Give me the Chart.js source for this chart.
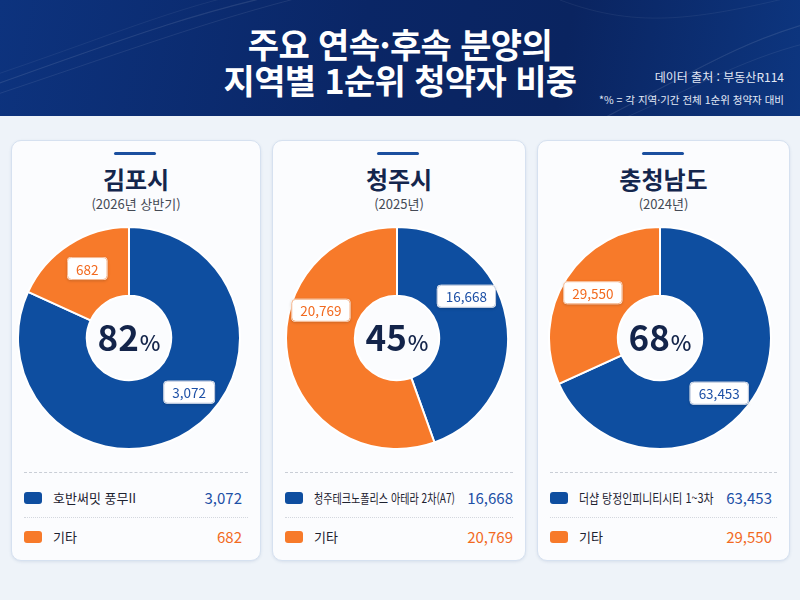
<!DOCTYPE html>
<html lang="ko">
<head>
<meta charset="utf-8">
<script src="https://cdn.jsdelivr.net/npm/chart.js@4.4.1/dist/chart.umd.min.js"></script>
<style>
  html, body { margin: 0; padding: 0; }
  body {
    width: 800px; height: 600px; overflow: hidden; position: relative;
    background: #eef3f9;
    font-family: "Noto Sans CJK KR", "Noto Sans", sans-serif;
  }
  .header {
    position: absolute; left: 0; top: 0; width: 800px; height: 116px;
    background: linear-gradient(100deg, #0d337e 0%, #0a2666 45%, #0a2460 70%, #0d3680 100%);
    overflow: hidden;
  }
  .header svg { position: absolute; left: 0; top: 0; }
  .title {
    position: absolute; left: 0; width: 800px; text-align: center;
    color: #fff; font-weight: 700; font-size: 34px; letter-spacing: -0.6px;
  }
  .note { position: absolute; right: 16px; color: #e3e9f6; white-space: nowrap; }
  .card {
    position: absolute; top: 140px; height: 421px;
    background: #fbfcfe; border: 1px solid #d6e1f0; border-radius: 10px;
    box-shadow: 0 1px 3px rgba(60, 90, 140, 0.12);
    box-sizing: border-box;
  }
  .bar { position: absolute; top: 11px; width: 42px; height: 3px; background: #1b4f9f; border-radius: 2px; }
  .card h2 {
    position: absolute; top: 21px; left: 0; right: 0; margin: 0; text-align: center;
    font-size: 24px; font-weight: 700; color: #14264d; line-height: 34px;
  }
  .card .sub {
    position: absolute; top: 54px; left: 0; right: 0; text-align: center;
    font-size: 13px; color: #444a55; line-height: 18px;
  }
  .card canvas { position: absolute; }
  .sep { position: absolute; left: 12px; right: 12px; border-top: 1px dashed #c9ced6; }
  .sep.dot { border-top: 1px dotted #d3d7de; }
  .row { position: absolute; left: 12px; height: 20px; }
  .sw { position: absolute; left: 0; top: 4px; width: 18px; height: 12px; border-radius: 3px; }
  .lab {
    position: absolute; left: 29px; top: 0; font-size: 13px; color: #1d2230; line-height: 20px;
    white-space: nowrap; transform-origin: left center;
  }
  .val { position: absolute; right: 0; top: 0; font-size: 15px; font-weight: 400; line-height: 20px; }
</style>
</head>
<body>
<div class="header">
  <svg width="800" height="116">
    <path d="M-20 90 C 120 40, 200 10, 300 -10" stroke="rgba(255,255,255,0.10)" stroke-width="1.2" fill="none"/>
    <path d="M-20 100 C 130 50, 210 20, 310 -5" stroke="rgba(255,255,255,0.08)" stroke-width="1" fill="none"/>
    <path d="M-20 80 C 100 40, 180 5, 260 -10" stroke="rgba(255,255,255,0.06)" stroke-width="1" fill="none"/>
    <path d="M600 120 C 680 80, 740 40, 820 20" stroke="rgba(255,255,255,0.10)" stroke-width="1.2" fill="none"/>
    <path d="M620 120 C 700 85, 750 55, 820 40" stroke="rgba(255,255,255,0.07)" stroke-width="1" fill="none"/>
    <path d="M560 0 C 640 30, 700 20, 820 -10" stroke="rgba(255,255,255,0.06)" stroke-width="1" fill="none"/>
  </svg>
  <div class="title" style="top: 22px; line-height: 44px;">주요 연속·후속 분양의</div>
  <div class="title" style="top: 58px; line-height: 44px;">지역별 1순위 청약자 비중</div>
  <div class="note" style="top: 68px; font-size: 12px;">데이터 출처 : 부동산R114</div>
  <div class="note" style="top: 92px; font-size: 10.5px;">*% = 각 지역·기간 전체 1순위 청약자 대비</div>
</div>
<div id="cards"></div>
<script>
// data
const regions = ["김포시", "청주시", "충청남도"];
const periods = ["(2026년 상반기)", "(2025년)", "(2024년)"];
const complexNames = ["호반써밋 풍무II", "청주테크노폴리스 아테라 2차(A7)", "더샵 탕정인피니티시티 1~3차"];
const otherLabel = "기타";
const topComplexApplicants = [3072, 16668, 63453];
const otherApplicants = [682, 20769, 29550];

// layout
const cardBoxes = [
  { left: 11, width: 250, cx: 129, valRight: 18 },
  { left: 272, width: 254, cx: 397, valRight: 12 },
  { left: 537, width: 253, cx: 660, valRight: 17 },
];
const labelAngles = [[132, 329], [59, 290], [133, 304]];
const BLUE = "#0e4ea0";
const ORANGE = "#f77a2a";
const BLUE_TXT = "#1d50a6";
const ORANGE_TXT = "#f26a1f";
const SIZE = 224;

const fmt = (n) => n.toLocaleString("en-US");

function roundRect(ctx, x, y, w, h, r) {
  ctx.beginPath();
  ctx.moveTo(x + r, y);
  ctx.arcTo(x + w, y, x + w, y + h, r);
  ctx.arcTo(x + w, y + h, x, y + h, r);
  ctx.arcTo(x, y + h, x, y, r);
  ctx.arcTo(x, y, x + w, y, r);
  ctx.closePath();
}

const donutText = {
  id: "donutText",
  afterDatasetsDraw(chart, args, opts) {
    const ctx = chart.ctx;
    const meta = chart.getDatasetMeta(0);
    const arc = meta.data[0];
    const cx = arc.x, cy = arc.y;
    const data = chart.data.datasets[0].data;
    const total = data[0] + data[1];

    // value boxes
    meta.data.forEach((el, i) => {
      const a = (opts.angles[i] * Math.PI) / 180;
      const r = 81;
      const x = cx + r * Math.sin(a);
      const y = cy - r * Math.cos(a);
      const txt = fmt(data[i]);
      ctx.font = "13.5px 'Noto Sans CJK KR', sans-serif";
      const w = ctx.measureText(txt).width + 18;
      const h = 23;
      ctx.save();
      ctx.shadowColor = "rgba(0,0,0,0.18)";
      ctx.shadowBlur = 3;
      ctx.shadowOffsetY = 1;
      roundRect(ctx, x - w / 2, y - h / 2, w, h, 4);
      ctx.fillStyle = "#ffffff";
      ctx.fill();
      ctx.restore();
      roundRect(ctx, x - w / 2 + 0.5, y - h / 2 + 0.5, w - 1, h - 1, 4);
      ctx.strokeStyle = i === 0 ? "#b9c6dc" : "#f5b58c";
      ctx.lineWidth = 1;
      ctx.stroke();
      ctx.fillStyle = i === 0 ? BLUE_TXT : ORANGE_TXT;
      ctx.textAlign = "center";
      ctx.textBaseline = "middle";
      ctx.fillText(txt, x, y + 1);
    });

    // center percentage
    const pct = Math.round((data[0] / total) * 100);
    ctx.save();
    ctx.fillStyle = "#13244a";
    ctx.textBaseline = "alphabetic";
    ctx.font = "700 35px 'Noto Sans CJK KR', sans-serif";
    const numW = ctx.measureText(String(pct)).width;
    ctx.font = "500 22px 'Noto Sans CJK KR', sans-serif";
    const pW = ctx.measureText("%").width;
    const start = cx - (numW + pW + 1) / 2;
    ctx.textAlign = "left";
    ctx.font = "700 35px 'Noto Sans CJK KR', sans-serif";
    ctx.fillText(String(pct), start, cy + 13);
    ctx.font = "500 22px 'Noto Sans CJK KR', sans-serif";
    ctx.fillText("%", start + numW + 1, cy + 13);
    ctx.restore();
  },
};

const cardsEl = document.getElementById("cards");

regions.forEach((region, k) => {
  const box = cardBoxes[k];
  const card = document.createElement("div");
  card.className = "card";
  card.style.left = box.left + "px";
  card.style.width = box.width + "px";
  const barLeft = box.width / 2 - 23;
  const rowStyle = `right:${box.valRight}px`;
  card.innerHTML = `
    <div class="bar" style="left:${barLeft}px"></div>
    <h2>${region}</h2>
    <div class="sub">${periods[k]}</div>
    <canvas width="${SIZE}" height="${SIZE}" style="left:${box.cx - box.left - SIZE / 2 - 1}px; top:${338 - 140 - SIZE / 2 - 1}px; width:${SIZE}px; height:${SIZE}px"></canvas>
    <div class="sep" style="top:331px"></div>
    <div class="row" style="top:347px; ${rowStyle}">
      <div class="sw" style="background:${BLUE}"></div>
      <div class="lab">${complexNames[k]}</div>
      <div class="val" style="color:${BLUE_TXT}">${fmt(topComplexApplicants[k])}</div>
    </div>
    <div class="sep dot" style="top:376px"></div>
    <div class="row" style="top:386px; ${rowStyle}">
      <div class="sw" style="background:${ORANGE}"></div>
      <div class="lab">${otherLabel}</div>
      <div class="val" style="color:${ORANGE_TXT}">${fmt(otherApplicants[k])}</div>
    </div>`;
  cardsEl.appendChild(card);

  // squeeze long complex names so they fit beside the value
  card.querySelectorAll(".row").forEach((row) => {
    const lab = row.querySelector(".lab");
    const val = row.querySelector(".val");
    const room = val.offsetLeft - lab.offsetLeft - 12;
    if (lab.scrollWidth > room) {
      lab.style.transform = `scaleX(${room / lab.scrollWidth})`;
    }
  });

  new Chart(card.querySelector("canvas"), {
    type: "doughnut",
    data: {
      labels: [complexNames[k], otherLabel],
      datasets: [
        {
          data: [topComplexApplicants[k], otherApplicants[k]],
          backgroundColor: [BLUE, ORANGE],
          borderColor: "#ffffff",
          borderWidth: 2,
          hoverOffset: 0,
        },
      ],
    },
    options: {
      responsive: false,
      animation: false,
      cutout: "38%",
      layout: { padding: 0 },
      plugins: {
        legend: { display: false },
        tooltip: { enabled: false },
        donutText: { angles: labelAngles[k] },
      },
    },
    plugins: [donutText],
  });
});
</script>
</body>
</html>
